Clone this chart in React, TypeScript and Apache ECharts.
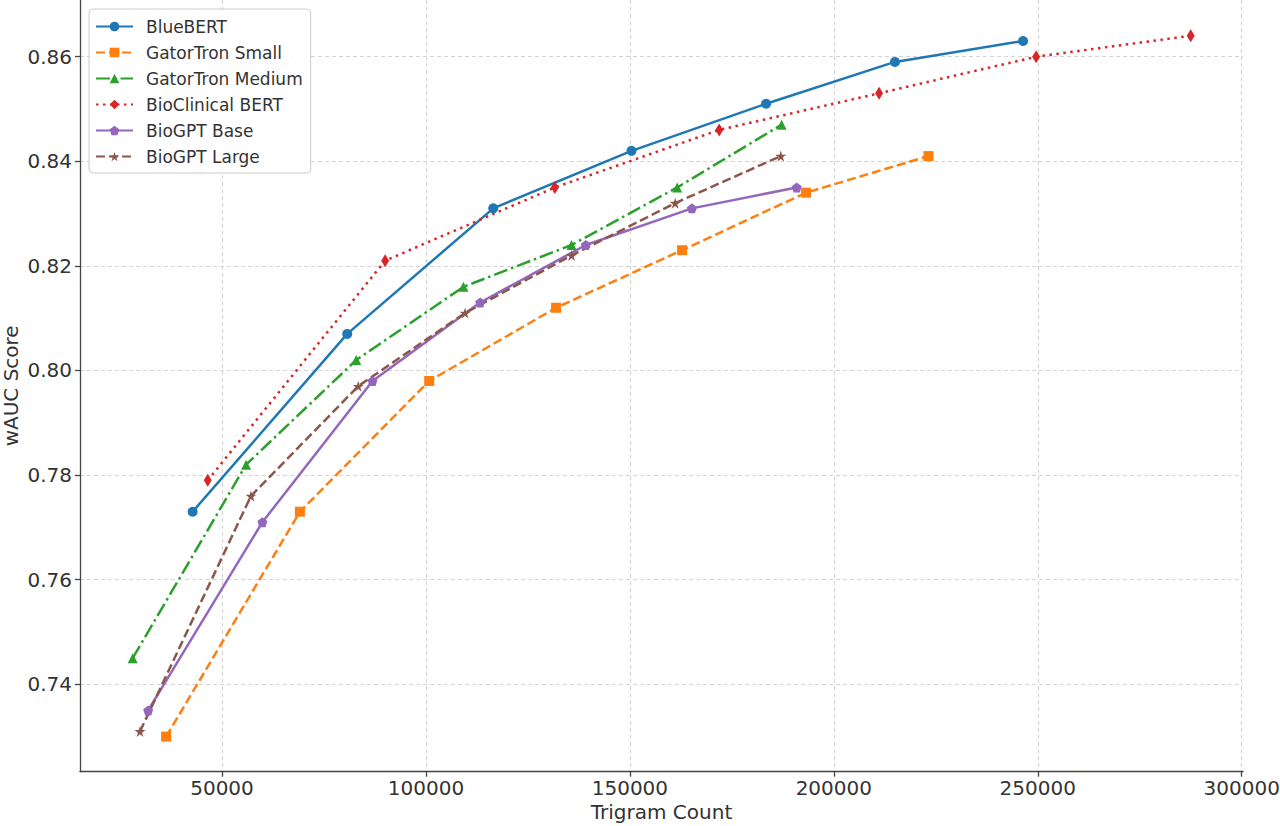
import React, { useEffect, useRef } from "react";
import * as echarts from "echarts";

const seriesNames = ["BlueBERT", "GatorTron Small", "GatorTron Medium", "BioClinical BERT", "BioGPT Base", "BioGPT Large"];

const blueBertX = [42800, 80700, 116500, 150400, 183400, 215000, 246400];
const blueBertY = [0.773, 0.807, 0.831, 0.842, 0.851, 0.859, 0.863];

const gatorSmallX = [36300, 69100, 100800, 131900, 162800, 193200, 223200];
const gatorSmallY = [0.730, 0.773, 0.798, 0.812, 0.823, 0.834, 0.841];

const gatorMediumX = [28100, 55900, 82900, 109200, 135700, 161600, 187200];
const gatorMediumY = [0.745, 0.782, 0.802, 0.816, 0.824, 0.835, 0.847];

const bioClinicalX = [46500, 90000, 131600, 171900, 211100, 249600, 287500];
const bioClinicalY = [0.779, 0.821, 0.835, 0.846, 0.853, 0.860, 0.864];

const bioGptBaseX = [31900, 59900, 86900, 113300, 139200, 165200, 190900];
const bioGptBaseY = [0.735, 0.771, 0.798, 0.813, 0.824, 0.831, 0.835];

const bioGptLargeX = [29900, 57100, 83400, 109600, 135700, 161100, 187000];
const bioGptLargeY = [0.731, 0.776, 0.797, 0.811, 0.822, 0.832, 0.841];

const xTicks = [50000, 100000, 150000, 200000, 250000, 300000];
const yTicks = [0.74, 0.76, 0.78, 0.8, 0.82, 0.84, 0.86];

const colors = ["#1f77b4", "#ff7f0e", "#2ca02c", "#d62728", "#9467bd", "#8c564b"];

const PENTAGON = "path://M0,-1 L0.951,-0.309 L0.588,0.809 L-0.588,0.809 L-0.951,-0.309 Z";
const STAR =
  "path://M0,-1 L0.2234,-0.3074 L0.951,-0.309 L0.3614,0.1174 L0.588,0.809 L0,0.38 L-0.588,0.809 L-0.3614,0.1174 L-0.951,-0.309 L-0.2234,-0.3074 Z";

const FONT = "DejaVu Sans";

function zip(xs: number[], ys: number[]) {
  return xs.map((x, i) => [x, ys[i]]);
}

export default function App() {
  const ref = useRef<HTMLDivElement>(null);
  useEffect(() => {
    if (!ref.current) return;
    const chart = echarts.init(ref.current, undefined, { renderer: "svg" });
    const lw = 2.5;
    const defs = [
      { x: blueBertX, y: blueBertY, symbol: "circle", size: 10, dash: "solid" as any },
      { x: gatorSmallX, y: gatorSmallY, symbol: "rect", size: 10, dash: [9, 4] },
      { x: gatorMediumX, y: gatorMediumY, symbol: "triangle", size: 10, dash: [14, 4, 2.5, 4] },
      { x: bioClinicalX, y: bioClinicalY, symbol: "diamond", size: [8, 13], dash: [2.5, 4.5] },
      { x: bioGptBaseX, y: bioGptBaseY, symbol: PENTAGON, size: 10, dash: "solid" },
      { x: bioGptLargeX, y: bioGptLargeY, symbol: STAR, size: 11, dash: [9, 4] },
    ];
    const series = defs.map((d, i) => ({
      name: seriesNames[i],
      type: "line",
      data: zip(d.x, d.y),
      symbol: d.symbol,
      symbolSize: d.size,
      showAllSymbol: true,
      lineStyle: { color: colors[i], width: lw, type: d.dash },
      itemStyle: { color: colors[i], borderWidth: 0 },
      emphasis: { disabled: true },
      z: 3,
    }));
    chart.setOption({
      animation: false,
      color: colors,
      textStyle: { fontFamily: FONT },
      grid: { left: 80, right: 37, top: 0, bottom: 54.3, containLabel: false, outerBoundsMode: "none" },
      legend: {
        orient: "vertical",
        left: 89,
        top: 9,
        padding: [9, 8, 8, 6],
        itemWidth: 37,
        itemHeight: 12,
        itemGap: 9,
        backgroundColor: "rgba(255,255,255,0.85)",
        borderColor: "#cccccc",
        borderWidth: 1,
        borderRadius: 4,
        textStyle: { fontSize: 17, color: "#333", fontFamily: FONT, padding: [0, 0, 0, 8] },
        data: seriesNames,
      },
      xAxis: {
        type: "value",
        min: 15186,
        max: 300320,
        name: "Trigram Count",
        nameLocation: "middle",
        nameGap: 30,
        nameMoveOverlap: false,
        nameTextStyle: { fontSize: 20, color: "#333", fontFamily: FONT },
        axisLine: { show: true, onZero: false, lineStyle: { color: "#444", width: 1.3 } },
        axisTick: { show: true, length: 5, customValues: xTicks, lineStyle: { color: "#444", width: 1.3 } },
        axisLabel: {
          customValues: xTicks,
          fontSize: 20,
          color: "#333",
          fontFamily: FONT,
          margin: 6,
          formatter: (v: number) => String(v),
        },
        splitLine: { show: true, lineStyle: { color: "#d4d4d4", width: 1, type: [4, 3] } },
      },
      yAxis: {
        type: "value",
        min: 0.72329,
        max: 0.87084,
        name: "wAUC Score",
        nameLocation: "middle",
        nameGap: 59,
        nameMoveOverlap: false,
        nameTextStyle: { fontSize: 20, color: "#333", fontFamily: FONT },
        axisLine: { show: true, onZero: false, lineStyle: { color: "#444", width: 1.3 } },
        axisTick: { show: true, length: 5, customValues: yTicks, lineStyle: { color: "#444", width: 1.3 } },
        axisLabel: {
          customValues: yTicks,
          fontSize: 20,
          color: "#333",
          fontFamily: FONT,
          margin: 8,
          formatter: (v: number) => v.toFixed(2),
        },
        splitLine: { show: true, lineStyle: { color: "#d4d4d4", width: 1, type: [4, 3] } },
      },
      series,
    });
    return () => chart.dispose();
  }, []);
  return (
    <div
      ref={ref}
      style={{ position: "fixed", left: 0, top: 0, width: 1280, height: 826, background: "#fff" }}
    />
  );
}
